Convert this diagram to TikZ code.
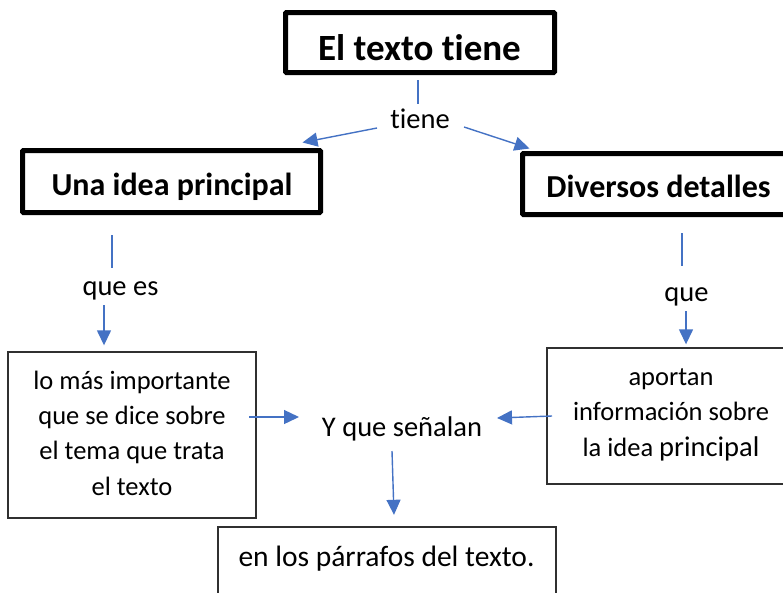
\documentclass[tikz,border=0pt]{standalone}
\usepackage{fontspec}
\setmainfont{Carlito}[Ligatures=NoCommon]
\usetikzlibrary{arrows.meta,calc}
\definecolor{linkblue}{HTML}{4472C4}
\definecolor{boxgray}{HTML}{303030}
\tikzset{
  hbox/.style={draw=black, line width=5pt, rounded corners=1pt, inner sep=0pt},
  tbox/.style={draw=boxgray, line width=1.4pt, inner sep=0pt, align=center},
  lbl/.style={inner sep=0pt, anchor=base},
  link/.style={draw=linkblue, line width=1.4pt},
  arr/.style={link, -{Triangle[length=15pt,width=14pt]}},
  title/.style={font=\fontsize{37}{40}\selectfont\bfseries},
  head/.style={font=\fontsize{32}{36}\selectfont\bfseries},
  body/.style={font=\fontsize{26.5}{35.3}\selectfont},
  lab/.style={font=\fontsize{28.5}{34}\selectfont},
  labb/.style={font=\fontsize{29.5}{34}\selectfont},
}
\begin{document}
\begin{tikzpicture}[x=1pt,y=-1pt]
\useasboundingbox (0,0) rectangle (783,592);
\clip (0,0) rectangle (783,592);
% boxes
\node[hbox, minimum width=269pt, minimum height=60pt] (top) at (420,42.5) {};
\node[lbl, title] (toptxt) at (419.5,60) {El texto tiene};
\node[hbox, minimum width=298pt, minimum height=62pt] (una) at (171.5,181.5) {};
\node[lbl, head] (unatxt) at (172,195) {Una idea principal};
\node[hbox, minimum width=277pt, minimum height=61pt] (div) at (661,184) {};
\node[lbl, head] (divtxt) at (658.5,197) {Diversos detalles};
\node[tbox, minimum width=248pt, minimum height=166pt] (lbox) at (132,435) {};
\node[lbl, body, align=center] (ltxt) at (132,495) {lo más importante\\que se dice sobre\\el tema que trata\\el texto};
\node[tbox, minimum width=248pt, minimum height=136pt] (rbox) at (671,416) {};
\node[lbl, body, align=center] (rtxt) at (671,456) {aportan\\información sobre\\la idea {\fontsize{28.5}{35.3}\selectfont principal}};
\node[tbox, minimum width=338pt, minimum height=70pt] (bbox) at (387,562) {};
\node[lbl, labb] (btxt) at (386.5,566.5) {en los párrafos del texto.};
% labels
\node[lbl, lab] (tiene) at (420,128) {tiene};
\node[lbl, lab] (quees) at (120.5,295) {que es};
\node[lbl, lab] (que) at (686.5,301) {que};
\node[lbl, lab] (senalan) at (402,436.5) {Y que señalan};
% connectors
\draw[link] ($(top.south)+(-2,5)$) -- ($(tiene.base)+(-2,-24)$);
\draw[arr] ($(tiene.base)+(-43,0)$) -- ($(una.north east)+(-20.5,-5.5)$);
\draw[arr] ($(tiene.base)+(44,-1)$) -- ($(div.north west)+(9.5,-2.5)$);
\draw[link] ($(quees.base)+(-8.5,-60)$) -- ($(quees.base)+(-8.5,-27)$);
\draw[arr] ($(quees.base)+(-16.5,10)$) -- ($(lbox.north -| quees.base)+(-16.5,-6)$);
\draw[link] ($(que.base)+(-4.5,-68)$) -- ($(que.base)+(-4.5,-35)$);
\draw[arr] ($(que.base)+(-0.5,10)$) -- ($(rbox.north -| que.base)+(-0.5,-3)$);
\draw[arr] ($(lbox.east |- senalan.base)+(-7.7,-19.5)$) -- ($(senalan.base)+(-103,-19.5)$);
\draw[arr] ($(rbox.west)+(5.7,0)$) -- ($(senalan.base)+(95,-18.5)$);
\draw[arr] ($(senalan.base)+(-10,14.5)$) -- ($(bbox.north -| senalan.base)+(-8,-11.5)$);
\end{tikzpicture}
\end{document}
